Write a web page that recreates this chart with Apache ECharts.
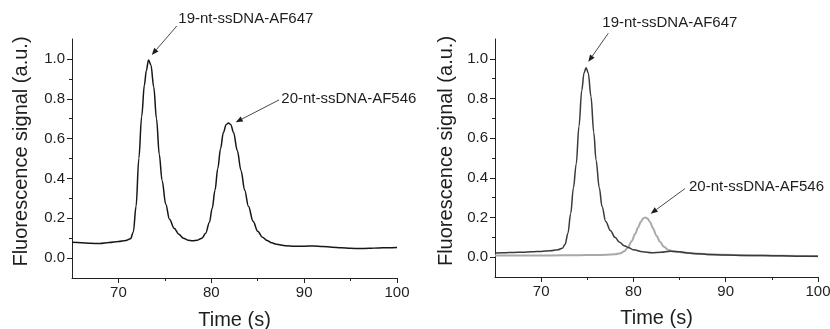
<!DOCTYPE html>
<html>
<head>
<meta charset="utf-8">
<script src="https://cdn.jsdelivr.net/npm/echarts@6/dist/echarts.min.js"></script>
<style>
  html, body { margin: 0; padding: 0; background: #fff; }
  #chart { width: 830px; height: 329px; }
</style>
</head>
<body>
<div id="chart"></div>
<script>
// Electropherograms: fluorescence signal vs. migration time, [time (s), signal (a.u.)]
const leftTrace = [
  [65, 0.079], [66, 0.077], [67, 0.074], [68, 0.073], [69, 0.078], [70, 0.083],
  [70.8, 0.088], [71.3, 0.097], [71.6, 0.13], [71.9, 0.26], [72.2, 0.50], [72.5, 0.71],
  [72.8, 0.87], [73.0, 0.94], [73.24, 0.995], [73.5, 0.97], [73.8, 0.86], [74.1, 0.70],
  [74.4, 0.52], [74.7, 0.39], [75.1, 0.27], [75.5, 0.195], [76.0, 0.15], [76.5, 0.12],
  [77.0, 0.10], [77.5, 0.09], [78.0, 0.087], [78.5, 0.09], [79.0, 0.10], [79.4, 0.125],
  [79.8, 0.18], [80.1, 0.25], [80.4, 0.34], [80.7, 0.45], [81.0, 0.55], [81.3, 0.63],
  [81.6, 0.67], [81.85, 0.678], [82.1, 0.67], [82.4, 0.63], [82.8, 0.54], [83.2, 0.44],
  [83.6, 0.34], [84.0, 0.26], [84.5, 0.185], [85.0, 0.135], [85.5, 0.105], [86.0, 0.088],
  [86.5, 0.077], [87.0, 0.07], [88, 0.062], [89, 0.060], [90, 0.060], [91, 0.061],
  [92, 0.058], [93, 0.055], [94, 0.052], [95, 0.049], [96, 0.048], [97, 0.049],
  [98, 0.051], [99, 0.052], [100, 0.053]
];

const rightTraceAF647 = [
  [65, 0.021], [66, 0.022], [67, 0.024], [68, 0.025], [69, 0.027], [70, 0.029],
  [71, 0.032], [71.8, 0.037], [72.3, 0.045], [72.6, 0.065], [72.9, 0.12], [73.2, 0.22],
  [73.5, 0.35], [73.8, 0.47], [74.1, 0.66], [74.4, 0.84], [74.65, 0.93], [74.87, 0.955],
  [75.1, 0.93], [75.4, 0.81], [75.7, 0.63], [75.95, 0.49], [76.3, 0.35], [76.6, 0.255],
  [77.0, 0.18], [77.5, 0.135], [78.0, 0.10], [78.5, 0.075], [79.0, 0.058], [79.5, 0.048],
  [80, 0.037], [81, 0.027], [82, 0.022], [83, 0.025], [84, 0.03], [85, 0.027],
  [86, 0.021], [87, 0.017], [88, 0.014], [90, 0.011], [92, 0.009], [94, 0.008],
  [96, 0.007], [98, 0.005], [100, 0.004]
];

const rightTraceAF546 = [
  [65, 0.008], [68, 0.009], [71, 0.009], [74, 0.010], [76, 0.011], [77, 0.012],
  [78, 0.015], [78.6, 0.02], [79.0, 0.03], [79.4, 0.048], [79.8, 0.08], [80.2, 0.118],
  [80.5, 0.15], [80.8, 0.178], [81.05, 0.195], [81.27, 0.2], [81.5, 0.196], [81.8, 0.178],
  [82.1, 0.148], [82.5, 0.108], [82.9, 0.076], [83.3, 0.052], [83.8, 0.036], [84.5, 0.028],
  [85.5, 0.023], [86.5, 0.019], [88, 0.015], [90, 0.012], [93, 0.009], [96, 0.007],
  [100, 0.005]
];

// Axis ticks
const timeLabels = [70, 80, 90, 100];
const timeMinorTicks = [75, 85, 95];
const signalLabels = [0, 0.2, 0.4, 0.6, 0.8, 1.0];
const signalMinorTicks = [0.1, 0.3, 0.5, 0.7, 0.9];

// Peak annotations per panel: text anchor and arrow (tail -> tip) in data coordinates
const leftNotes = [
  { text: '19-nt-ssDNA-AF647', at: [76.45, 1.200], from: [76.28, 1.165], to: [73.59, 1.020] },
  { text: '20-nt-ssDNA-AF546', at: [87.54, 0.797], from: [87.29, 0.794], to: [82.63, 0.682] }
];
const rightNotes = [
  { text: '19-nt-ssDNA-AF647', at: [76.63, 1.179], from: [77.28, 1.129], to: [75.11, 0.985] },
  { text: '20-nt-ssDNA-AF546', at: [86.02, 0.357], from: [85.59, 0.346], to: [81.87, 0.219] }
];

const FONT = "'Liberation Sans', Arial, sans-serif";
const TEXT = '#1e1e1e';
const AXIS = '#222';

function timeAxes(gridIndex, nameGap) {
  return [
    {
      type: 'value', gridIndex, min: 65, max: 100, position: 'bottom',
      name: 'Time (s)', nameLocation: 'middle', nameGap,
      nameTextStyle: { fontFamily: FONT, fontSize: 20, color: TEXT },
      axisLine: { show: true, onZero: false, lineStyle: { color: AXIS, width: 1 } },
      axisTick: { show: true, customValues: timeLabels, length: 5, lineStyle: { color: AXIS } },
      axisLabel: { customValues: timeLabels, fontFamily: FONT, fontSize: 15, color: TEXT, margin: 7 },
      splitLine: { show: false }
    },
    {
      type: 'value', gridIndex, min: 65, max: 100, position: 'bottom',
      axisLine: { show: false, onZero: false },
      axisTick: { show: true, customValues: timeMinorTicks, length: 3, lineStyle: { color: AXIS } },
      axisLabel: { show: false },
      splitLine: { show: false }
    }
  ];
}

function signalAxes(gridIndex, nameGap) {
  return [
    {
      type: 'value', gridIndex, min: -0.1, max: 1.1, position: 'left',
      name: 'Fluorescence signal (a.u.)', nameLocation: 'middle', nameGap,
      nameTextStyle: { fontFamily: FONT, fontSize: 20, color: TEXT, padding: [0, 0, 0, 14] },
      axisLine: { show: true, onZero: false, lineStyle: { color: AXIS, width: 1 } },
      axisTick: { show: true, customValues: signalLabels, length: 5, lineStyle: { color: AXIS } },
      axisLabel: {
        customValues: signalLabels, fontFamily: FONT, fontSize: 15, color: TEXT, margin: 7,
        formatter: v => v.toFixed(1)
      },
      splitLine: { show: false }
    },
    {
      type: 'value', gridIndex, min: -0.1, max: 1.1, position: 'left',
      axisLine: { show: false, onZero: false },
      axisTick: { show: true, customValues: signalMinorTicks, length: 3, lineStyle: { color: AXIS } },
      axisLabel: { show: false },
      splitLine: { show: false }
    }
  ];
}

function trace(data, xAxisIndex, yAxisIndex, color, width) {
  return {
    type: 'line', data, xAxisIndex, yAxisIndex,
    showSymbol: false, symbol: 'none',
    smooth: 0.35, smoothMonotone: 'x',
    lineStyle: { color, width },
    emphasis: { disabled: true },
    z: 3
  };
}

const chart = echarts.init(document.getElementById('chart'), null, { renderer: 'canvas' });

chart.setOption({
  animation: false,
  backgroundColor: '#ffffff',
  grid: [
    { left: 72, top: 39, width: 325, height: 239, outerBoundsMode: 'none' },
    { left: 495, top: 39, width: 323, height: 238, outerBoundsMode: 'none' }
  ],
  xAxis: [...timeAxes(0, 32), ...timeAxes(1, 31)],
  yAxis: [...signalAxes(0, 41), ...signalAxes(1, 39)],
  series: [
    trace(leftTrace, 0, 0, '#161616', 1.5),
    trace(rightTraceAF546, 2, 2, '#a9a9a9', 2),
    trace(rightTraceAF647, 2, 2, '#3a3a3a', 1.5)
  ]
});

// Arrow + label annotations, placed through each grid's own scales
function annotationGraphics(notes, gridIndex) {
  const out = [];
  notes.forEach(n => {
    const a = chart.convertToPixel({ gridIndex }, n.at);
    const p0 = chart.convertToPixel({ gridIndex }, n.from);
    const p1 = chart.convertToPixel({ gridIndex }, n.to);
    const dx = p1[0] - p0[0], dy = p1[1] - p0[1];
    const len = Math.hypot(dx, dy);
    const ux = dx / len, uy = dy / len;
    const head = 7, half = 2.8;
    const bx = p1[0] - ux * head, by = p1[1] - uy * head;
    out.push({
      type: 'line', silent: true, z: 10,
      shape: { x1: p0[0], y1: p0[1], x2: bx, y2: by },
      style: { stroke: '#4a4a4a', lineWidth: 1 }
    });
    out.push({
      type: 'polygon', silent: true, z: 10,
      shape: { points: [[p1[0], p1[1]], [bx - uy * half, by + ux * half], [bx + uy * half, by - ux * half]] },
      style: { fill: '#1e1e1e' }
    });
    out.push({
      type: 'text', silent: true, z: 10,
      x: a[0], y: a[1],
      style: { text: n.text, font: '15px ' + FONT, fill: TEXT, align: 'left', verticalAlign: 'middle' }
    });
  });
  return out;
}

chart.setOption({
  graphic: [...annotationGraphics(leftNotes, 0), ...annotationGraphics(rightNotes, 1)]
});
</script>
</body>
</html>
